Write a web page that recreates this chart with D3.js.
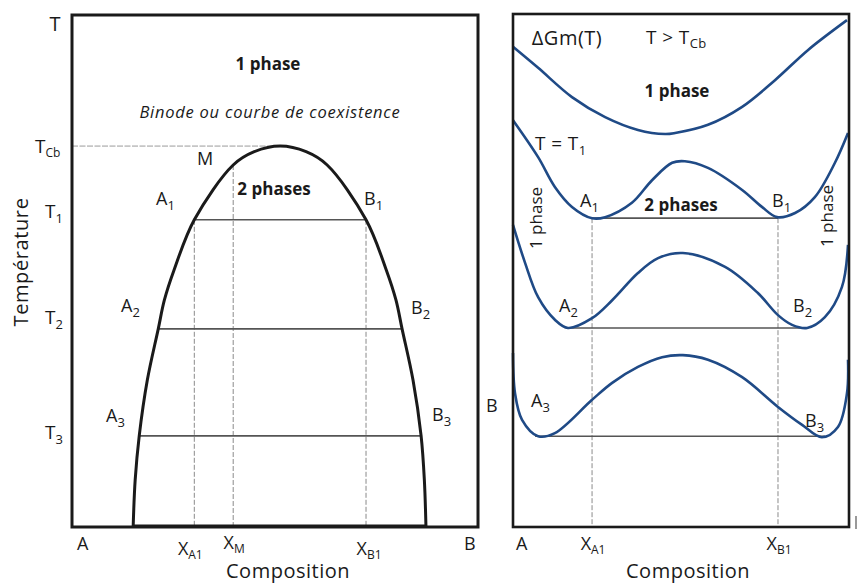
<!DOCTYPE html>
<html><head><meta charset="utf-8">
<script src="https://cdn.jsdelivr.net/npm/d3@7"></script>
<style>
html,body{margin:0;padding:0;background:#fff;}
svg{display:block;font-family:"Open Sans","Noto Sans",sans-serif;}
</style></head>
<body>
<svg id="c" width="857" height="583"></svg>
<script>
// ---------- DATA (abstract units) ----------
// Left panel: binodal curve (composition 0..100, temperature 0..100)
const binodeComp = [15.1,15.6,16.6,18.6,21.3,22.8,25.2,30.2,39.8,45.0,51.4,57.8,63.0,72.6,77.6,80.0,81.5,84.2,86.2,87.0,87.4];
const binodeTemp = [0,9.2,17.8,28.7,38.7,44.3,50.2,60.0,70.7,73.3,74.4,73.3,70.7,60.0,50.2,44.3,38.7,28.7,17.8,9.2,0];
const tieTemp   = [60.0,38.7,17.8];
const tieLeft   = [30.2,21.3,16.6];
const tieRight  = [72.6,81.5,86.2];
const critTemp  = 74.4;   // T_Cb
const critComp  = 51.4;
const mComp = 39.8, mTemp = 70.7;

// Right panel: ΔGm(x) curves (composition 0..100, ΔGm 0..100)
const g0Comp = [0,7.5,17.6,27.5,37.3,45.4,48.4,58.2,68.4,78.2,88.1,99.7];
const g0Val  = [93.6,89.5,83.8,79.9,77.4,76.6,76.8,78.4,81.9,87.1,93.0,98.8];
const g1Comp = [0,7.5,12.5,17.6,23.6,27.5,35.5,41.5,47.5,51.3,58.2,68.4,74.3,78.8,84.2,90.1,96.1,100];
const g1Val  = [79.3,72.1,66.3,62.4,60.2,60.4,63.2,67.6,71.0,71.3,70.0,65.7,62.4,60.4,61.2,64.3,71.0,76.8];
const g2Comp = [0,3.6,7.5,12.5,16.4,23.6,29.6,37.3,43.3,50.7,63.3,73.1,79.1,83.3,87.8,93.1,98.2,100];
const g2Val  = [58.9,51.5,44.8,40.4,38.8,40.7,44.2,49.5,52.4,53.4,50.7,45.6,41.3,39.4,38.8,40.9,46.8,55.0];
const g3Comp = [0,0.6,2.7,7.5,12.5,23.6,29.6,37.3,44.5,50.7,58.2,68.4,79.1,86.3,92.2,97.0,99.7,100];
const g3Val  = [33.9,26.1,20.9,17.7,18.3,24.8,28.1,31.2,33.1,33.5,32.6,29.2,23.4,19.9,17.5,19.5,26.1,32.6];
const gTieVal   = [60.2,38.8,17.7];
const gTieLeft  = [23.6,16.1,6.6];
const gTieRight = [79.1,87.2,93.1];
const gXA1 = 23.6, gXB1 = 79.1;

// ---------- DRAW ----------
const svg = d3.select("#c");
const INK = "#1a1a1a", BLUE = "#1f4a86", GREY = "#555", DASH = "#8a8a8a";

const xL = d3.scaleLinear([0,100],[72,477]);
const yL = d3.scaleLinear([0,100],[527,15]);
const xR = d3.scaleLinear([0,100],[513,848]);
const yR = d3.scaleLinear([0,100],[527,14]);

function label(g, x, y, main, sub, o={}) {
  const size = o.size||18, subSize = o.subSize||13;
  const t = g.append("text").attr("x",x).attr("y",y)
    .attr("fill",INK).attr("font-size",size)
    .attr("text-anchor",o.anchor||"start");
  if (o.weight) t.attr("font-weight",o.weight);
  if (o.italic) t.attr("font-style","italic");
  if (o.ls) t.attr("letter-spacing",o.ls);
  if (o.rotate) t.attr("transform",`rotate(${o.rotate},${x},${y})`);
  t.append("tspan").text(main);
  if (sub) t.append("tspan").attr("dy",o.subDy||5).attr("font-size",subSize).text(sub);
  return t;
}

// ===== Left panel =====
const L = svg.append("g");
L.append("line").attr("x1",xL(0)).attr("x2",xL(critComp)).attr("y1",yL(critTemp)).attr("y2",yL(critTemp))
  .attr("stroke","#9a9a9a").attr("stroke-width",1).attr("stroke-dasharray","6,1.5");
[[tieLeft[0],tieTemp[0]],[mComp,mTemp],[tieRight[0],tieTemp[0]]].forEach(([c,t])=>{
  L.append("line").attr("x1",xL(c)).attr("x2",xL(c)).attr("y1",yL(t)).attr("y2",yL(0))
    .attr("stroke",DASH).attr("stroke-width",1).attr("stroke-dasharray","5,2");
});
tieTemp.forEach((t,i)=>{
  L.append("line").attr("x1",xL(tieLeft[i])).attr("x2",xL(tieRight[i]))
    .attr("y1",yL(t)).attr("y2",yL(t)).attr("stroke",GREY).attr("stroke-width",1.6);
});
const binode = binodeComp.map((c,i)=>[c,binodeTemp[i]]);
L.append("path").datum(binode)
  .attr("d",d3.line().x(d=>xL(d[0])).y(d=>yL(d[1])).curve(d3.curveCatmullRom.alpha(0.5)))
  .attr("fill","none").attr("stroke",INK).attr("stroke-width",3);
L.append("line").attr("x1",xL(binodeComp[0])).attr("x2",xL(binodeComp[binodeComp.length-1]))
  .attr("y1",yL(0)-1).attr("y2",yL(0)-1).attr("stroke",INK).attr("stroke-width",3);
L.append("rect").attr("x",xL(0)).attr("y",yL(100)).attr("width",xL(100)-xL(0)+1).attr("height",yL(0)-yL(100))
  .attr("fill","none").attr("stroke",INK).attr("stroke-width",3);

label(L, 55, 31, "T", null, {size:20, anchor:"middle"});
label(L, 35, 153, "T", "Cb", {size:19, subSize:12, subDy:4});
label(L, 45, 218, "T", "1", {size:19, subSize:13});
label(L, 45, 324, "T", "2", {size:19, subSize:13});
label(L, 45, 439, "T", "3", {size:19, subSize:13});
label(L, 197, 165, "M", null, {size:18});
label(L, 156, 205, "A", "1");
label(L, 364, 205, "B", "1");
label(L, 121, 312, "A", "2");
label(L, 411, 314, "B", "2");
label(L, 106, 422, "A", "3");
label(L, 432, 421, "B", "3");
label(L, 268, 70, "1 phase", null, {size:17, weight:"bold", anchor:"middle"});
label(L, 270, 118, "Binode ou courbe de coexistence", null, {size:16.5, italic:true, anchor:"middle", ls:0.75});
label(L, 274, 195, "2 phases", null, {size:17, weight:"bold", anchor:"middle"});
label(L, xL(0)+5, 550, "A", null, {size:18});
label(L, xL(100)-13, 550, "B", null, {size:18});
label(L, xL(tieLeft[0])-4, 555, "X", "A1", {size:18, subSize:12, anchor:"middle", subDy:4});
label(L, xL(mComp)+1, 549, "X", "M", {size:18, subSize:12, anchor:"middle", subDy:4});
label(L, xL(tieRight[0])+3, 555, "X", "B1", {size:18, subSize:12, anchor:"middle", subDy:4});
label(L, 288, 578, "Composition", null, {size:20, anchor:"middle", ls:0.5});
label(L, 28, 262, "Température", null, {size:20, anchor:"middle", rotate:-90, ls:0.6});

// ===== Right panel =====
const R = svg.append("g");
[gXA1,gXB1].forEach(c=>{
  R.append("line").attr("x1",xR(c)).attr("x2",xR(c)).attr("y1",yR(gTieVal[0])).attr("y2",yR(0))
    .attr("stroke",DASH).attr("stroke-width",1).attr("stroke-dasharray","5,2");
});
gTieVal.forEach((v,i)=>{
  R.append("line").attr("x1",xR(gTieLeft[i])).attr("x2",xR(gTieRight[i]))
    .attr("y1",yR(v)).attr("y2",yR(v)).attr("stroke",GREY).attr("stroke-width",1.6);
});
const gLine = d3.line().x(d=>xR(d[0])).y(d=>yR(d[1])).curve(d3.curveCatmullRom.alpha(0.5));
[[g0Comp,g0Val],[g1Comp,g1Val],[g2Comp,g2Val],[g3Comp,g3Val]].forEach(([cs,vs])=>{
  R.append("path").datum(cs.map((c,i)=>[c,vs[i]])).attr("d",gLine)
    .attr("fill","none").attr("stroke",BLUE).attr("stroke-width",2.6);
});
R.append("rect").attr("x",xR(0)).attr("y",yR(100)).attr("width",xR(100)-xR(0)+1).attr("height",yR(0)-yR(100))
  .attr("fill","none").attr("stroke",INK).attr("stroke-width",2.6);
R.append("line").attr("x1",856).attr("x2",856).attr("y1",516).attr("y2",529).attr("stroke","#777").attr("stroke-width",1.5);

label(R, 567, 45, "\u0394Gm(T)", null, {size:20, anchor:"middle", ls:0.5});
label(R, 646, 44, "T > T", "Cb", {size:19, subSize:13, subDy:4, ls:0.4});
label(R, 677, 97, "1 phase", null, {size:17, weight:"bold", anchor:"middle"});
label(R, 535, 150, "T = T", "1", {size:19, subSize:13, ls:0.4});
label(R, 681, 211, "2 phases", null, {size:17, weight:"bold", anchor:"middle"});
label(R, 580, 207, "A", "1");
label(R, 772, 207, "B", "1");
label(R, 559, 312, "A", "2");
label(R, 793, 312, "B", "2");
label(R, 531, 407, "A", "3");
label(R, 805, 427, "B", "3");
label(R, 542, 218, "1 phase", null, {size:17, anchor:"middle", rotate:-90});
label(R, 833, 216, "1 phase", null, {size:17, anchor:"middle", rotate:-90});
label(R, 486, 412, "B", null, {size:18});
label(R, xR(0)+3, 550, "A", null, {size:18});
label(R, xR(gXA1)+1, 550, "X", "A1", {size:18, subSize:12, anchor:"middle", subDy:4});
label(R, xR(gXB1)+1, 550, "X", "B1", {size:18, subSize:12, anchor:"middle", subDy:4});
label(R, 688, 578, "Composition", null, {size:20, anchor:"middle", ls:0.5});
</script>
</body></html>
